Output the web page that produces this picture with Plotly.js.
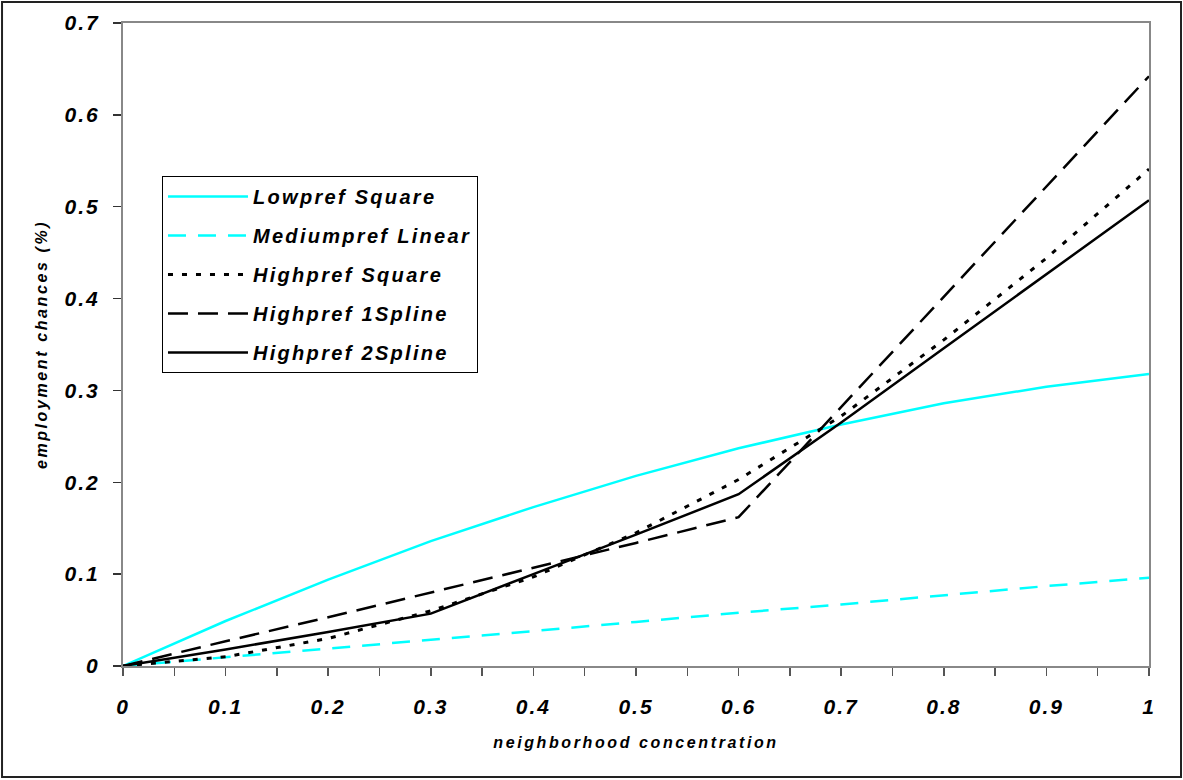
<!DOCTYPE html>
<html>
<head>
<meta charset="utf-8">
<script src="https://cdn.plot.ly/plotly-3.0.1.min.js"></script>
<style>
  html, body { margin: 0; padding: 0; background: #fff; }
  #chart { width: 1183px; height: 780px; }
  .xtick text, .ytick text { letter-spacing: 2px; }
  .legendtext { letter-spacing: 2.3px; }
  .g-xtitle text, .g-ytitle text { letter-spacing: 2.6px; }
</style>
</head>
<body>
<div id="chart"></div>
<script>
// x positions (neighborhood concentration)
const concentration = [0, 0.1, 0.2, 0.3, 0.4, 0.5, 0.6, 0.7, 0.8, 0.9, 1.0];

// series values (employment chances)
const lowprefSquare     = [0, 0.049, 0.094, 0.136, 0.173, 0.207, 0.237, 0.263, 0.286, 0.304, 0.318];
const mediumprefLinear  = [0, 0.0095, 0.019, 0.028, 0.038, 0.048, 0.058, 0.067, 0.077, 0.087, 0.096];
const highprefSquare    = [0, 0.01, 0.03, 0.06, 0.097, 0.145, 0.203, 0.272, 0.355, 0.444, 0.541];
const highpref1Spline   = [0, 0.027, 0.053, 0.08, 0.107, 0.134, 0.162, 0.282, 0.402, 0.522, 0.642];
const highpref2Spline   = [0, 0.018, 0.037, 0.057, 0.1, 0.143, 0.187, 0.265, 0.346, 0.427, 0.507];

const seriesNames = ['Lowpref Square', 'Mediumpref Linear', 'Highpref Square', 'Highpref 1Spline', 'Highpref 2Spline'];

const xTickVals = [0, 0.1, 0.2, 0.3, 0.4, 0.5, 0.6, 0.7, 0.8, 0.9, 1];
const xTickText = ['0', '0.1', '0.2', '0.3', '0.4', '0.5', '0.6', '0.7', '0.8', '0.9', '1'];
const yTickVals = [0, 0.1, 0.2, 0.3, 0.4, 0.5, 0.6, 0.7];
const yTickText = ['0', '0.1', '0.2', '0.3', '0.4', '0.5', '0.6', '0.7'];

const FONT = 'Liberation Sans, Arial, sans-serif';

const styles = [
  {color: '#00FFFF', dash: 'solid', width: 2.5},
  {color: '#00FFFF', dash: '18px,12px', width: 2.5},
  {color: '#000000', dash: '5px,9px', width: 3},
  {color: '#000000', dash: '20px,10px', width: 2.5},
  {color: '#000000', dash: 'solid', width: 2.5}
];
const seriesData = [lowprefSquare, mediumprefLinear, highprefSquare, highpref1Spline, highpref2Spline];

const traces = seriesData.map((ys, i) => ({
  type: 'scatter',
  mode: 'lines',
  x: concentration,
  y: ys,
  name: seriesNames[i],
  legendgroup: 'g' + i,
  line: {color: styles[i].color, dash: styles[i].dash, width: styles[i].width},
  hoverinfo: 'x+y+name'
}));

const layout = {
  width: 1183,
  height: 780,
  paper_bgcolor: '#ffffff',
  plot_bgcolor: '#ffffff',
  margin: {l: 123, r: 34, t: 23, b: 114},
  showlegend: true,
  legend: {
    x: 0.038, y: 0.762, xanchor: 'left', yanchor: 'top',
    bgcolor: '#ffffff', bordercolor: '#000000', borderwidth: 1,
    font: {family: FONT, size: 20, color: '#000', weight: 'bold', style: 'italic'},
    tracegroupgap: 10,
    itemwidth: 80,
    traceorder: 'grouped'
  },
  xaxis: {
    range: [0, 1],
    tickvals: xTickVals,
    ticktext: xTickText,
    ticks: 'outside',
    ticklen: 8,
    tickcolor: '#555',
    tickwidth: 1.5,
    ticklabelstandoff: 13,
    minor: {dtick: 0.05, ticks: 'outside', ticklen: 8, tickcolor: '#555', tickwidth: 1.5, showgrid: false},
    showgrid: false,
    zeroline: false,
    showline: true,
    linecolor: '#888888',
    linewidth: 2,
    mirror: true,
    tickfont: {family: FONT, size: 21, color: '#000', weight: 'bold', style: 'italic'},
    title: {
      text: 'neighborhood concentration',
      font: {family: FONT, size: 16, color: '#000', weight: 'bold', style: 'italic'},
      standoff: 20
    },
    fixedrange: true
  },
  yaxis: {
    range: [0, 0.7],
    tickvals: yTickVals,
    ticktext: yTickText,
    ticks: 'outside',
    ticklen: 8,
    tickcolor: '#333',
    tickwidth: 1.5,
    ticklabelstandoff: 9,
    showgrid: false,
    zeroline: false,
    showline: true,
    linecolor: '#888888',
    linewidth: 2,
    mirror: true,
    tickfont: {family: FONT, size: 21, color: '#000', weight: 'bold', style: 'italic'},
    title: {
      text: 'employment chances (%)',
      font: {family: FONT, size: 16, color: '#000', weight: 'bold', style: 'italic'},
      standoff: 13
    },
    fixedrange: true
  },
  shapes: [
    {
      type: 'rect', xref: 'paper', yref: 'paper',
      x0: -0.1179, x1: 1.0312, y0: -0.1726, y1: 1.0327,
      line: {color: '#222', width: 2}, fillcolor: 'rgba(0,0,0,0)', layer: 'below'
    }
  ]
};

Plotly.newPlot('chart', traces, layout, {displayModeBar: false, staticPlot: true});
</script>
</body>
</html>
